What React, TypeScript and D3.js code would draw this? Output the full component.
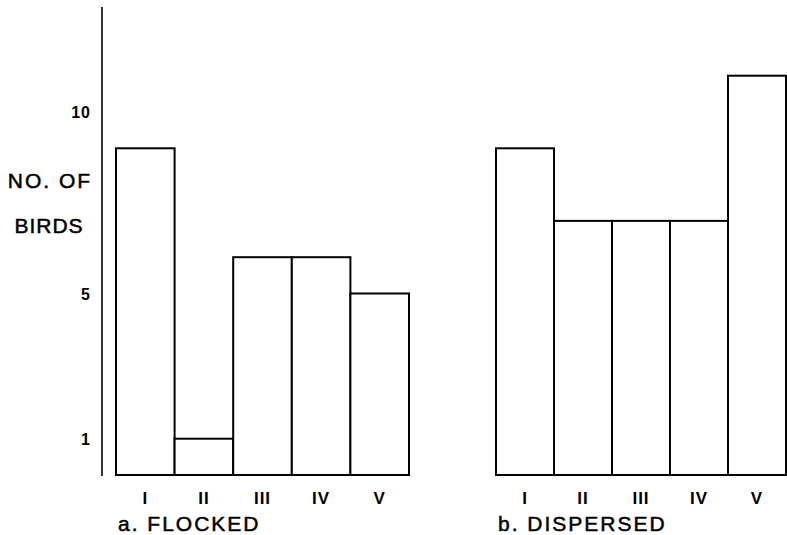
import React from "react";
import * as d3 from "d3";

// classes I..V, number of birds
const categories = ["I", "II", "III", "IV", "V"];
const flocked = [9, 1, 6, 6, 5];
const dispersed = [9, 7, 7, 7, 11];
const yTicks = [1, 5, 10];

const W = 787;
const H = 535;
const font = "'Liberation Sans', Arial, sans-serif";

const y = d3.scaleLinear().domain([0, 10]).range([475, 112]);

const Panel = ({ values, x0, x1, title }: { values: number[]; x0: number; x1: number; title: string }) => {
  const x = d3.scaleBand().domain(categories).range([x0, x1]).padding(0);
  return (
    <g>
      {values.map((v, i) => (
        <rect
          key={i}
          x={x(categories[i])}
          y={y(v)}
          width={x.bandwidth()}
          height={y(0) - y(v)}
          fill="white"
          stroke="black"
          strokeWidth={2}
        />
      ))}
      {categories.map((c) => (
        <text
          key={c}
          x={(x(c) as number) + x.bandwidth() / 2}
          y={504}
          textAnchor="middle"
          fontFamily={font}
          fontSize={17}
          fontWeight="bold"
          letterSpacing={1}
        >
          {c}
        </text>
      ))}
      <text x={x0 + 2} y={531} fontFamily={font} fontSize={21} stroke="black" strokeWidth={0.5} letterSpacing={2}>
        {title}
      </text>
    </g>
  );
};

export default function App() {
  return (
    <svg width={W} height={H} style={{ position: "absolute", left: 0, top: 0, background: "white" }}>
      <line x1={102} x2={102} y1={7} y2={476} stroke="black" strokeWidth={1.6} />
      {yTicks.map((t) => (
        <text
          key={t}
          x={91}
          y={y(t) + 6}
          textAnchor="end"
          fontFamily={font}
          fontSize={16}
          fontWeight="bold"
          letterSpacing={1}
        >
          {t}
        </text>
      ))}
      <text x={50} y={188} textAnchor="middle" fontFamily={font} fontSize={21} stroke="black" strokeWidth={0.5} letterSpacing={2}>
        NO. OF
      </text>
      <text x={49} y={233} textAnchor="middle" fontFamily={font} fontSize={21} stroke="black" strokeWidth={0.5} letterSpacing={1}>
        BIRDS
      </text>
      <Panel values={flocked} x0={116} x1={409} title="a. FLOCKED" />
      <Panel values={dispersed} x0={496} x1={786} title="b. DISPERSED" />
    </svg>
  );
}
